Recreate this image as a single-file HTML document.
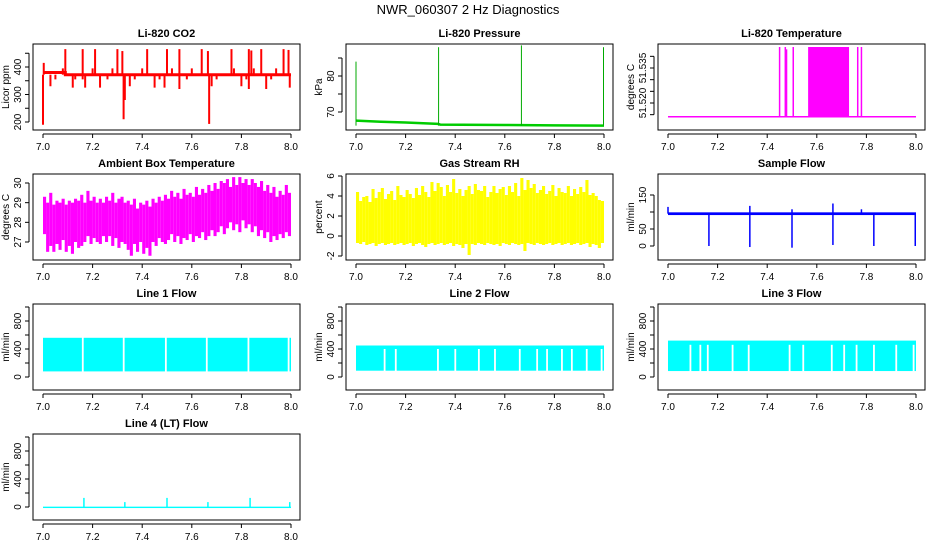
<!DOCTYPE html>
<html><head><meta charset="utf-8">
<style>
body{margin:0;background:#fff;}
svg text{font-family:"Liberation Sans",sans-serif;}
</style></head>
<body>
<svg id="c" width="936" height="540" xmlns="http://www.w3.org/2000/svg">
<text x="468" y="14" text-anchor="middle" font-size="13">NWR_060307  2 Hz Diagnostics</text>
</svg>
<script>
// ---- data ----
const xTicks = [7.0, 7.2, 7.4, 7.6, 7.8, 8.0];
const xStart = 7.0;
const xEnd = 8.0;
// CO2
const co2BaseX = [7.0, 7.09, 7.09, 8.0];
const co2BaseY = [380, 380, 372, 372];
const co2SpikeX = [7.0,7.003,7.09,7.16,7.21,7.30,7.32,7.325,7.33,7.42,7.50,7.55,7.64,7.665,7.67,7.76,7.83,7.84,7.88,7.97,7.99,7.03,7.05,7.08,7.12,7.13,7.16,7.17,7.20,7.23,7.26,7.28,7.35,7.37,7.40,7.45,7.47,7.49,7.52,7.55,7.58,7.60,7.68,7.70,7.77,7.80,7.82,7.83,7.85,7.90,7.92,7.94,7.995];
const co2SpikeY = [190,415,465,465,465,465,458,210,280,465,465,465,465,458,193,465,465,460,465,465,462,330,355,395,325,355,355,325,395,325,355,395,330,355,395,325,355,325,395,320,355,395,330,355,395,330,355,320,395,320,355,395,325];
// Pressure
const presBaseX = [7.0, 7.1, 7.2, 7.33, 7.34, 7.6, 7.8, 8.0];
const presBaseY = [67.6, 67.3, 67.1, 66.7, 66.5, 66.4, 66.3, 66.2];
const presSpikeX = [7.0, 7.333, 7.667, 7.998];
const presSpikeY = [84, 88, 88.5, 88];
// Li-820 temperature
const tempBase = 51.5141;
const tempSpikeX = [7.45, 7.473, 7.478, 7.505, 7.765, 7.78];
const tempSpikeY = [51.544, 51.544, 51.543, 51.544, 51.544, 51.544];
const tempBlock = [7.565, 7.73, 51.544];
// Ambient box temperature (80 bins, min / max)
const ambMin = [27.4,26.5,26.8,26.5,26.9,26.6,27.1,26.5,26.8,26.4,27.0,26.7,26.8,27.0,27.3,26.9,27.2,27.0,26.9,27.3,27.0,27.3,26.8,27.2,26.7,27.0,26.9,26.6,26.3,26.9,26.5,27.0,26.4,26.7,26.3,27.0,26.8,27.2,27.0,26.9,27.1,27.4,27.0,27.3,26.9,27.2,27.1,27.4,27.0,27.3,27.2,27.5,27.1,27.3,27.6,27.3,27.5,27.8,27.4,27.7,28.0,27.6,27.9,27.5,28.1,27.7,27.9,27.5,27.8,27.3,27.6,27.2,27.5,27.0,27.3,27.1,27.4,27.2,27.5,27.3];
const ambMax = [29.3,29.0,29.5,28.9,29.1,29.0,29.2,28.9,29.1,29.0,29.2,29.1,29.4,29.0,29.6,29.1,29.3,29.0,29.2,29.0,29.3,29.1,29.5,29.0,29.2,29.3,29.0,29.1,28.9,29.2,28.7,29.0,28.9,29.1,28.8,29.2,29.0,29.3,29.1,29.4,29.2,29.6,29.3,29.5,29.2,29.7,29.4,29.5,29.3,29.8,29.4,29.7,29.5,29.9,29.6,30.0,29.7,30.1,30.0,30.2,29.8,30.3,29.9,30.3,30.0,30.2,29.9,30.2,30.0,29.8,30.1,29.6,29.9,29.5,29.8,29.3,29.6,29.4,29.9,29.5];
// Gas stream RH (80 bins)
const rhMin = [-0.7,-0.8,-0.6,-0.9,-0.8,-0.7,-1.0,-0.8,-0.7,-0.9,-0.8,-0.7,-0.9,-0.8,-0.7,-0.9,-0.8,-0.7,-1.0,-0.8,-0.7,-0.9,-1.1,-0.8,-0.7,-0.9,-0.8,-0.7,-0.9,-0.8,-0.7,-1.0,-0.8,-0.9,-1.2,-0.8,-1.9,-0.8,-0.9,-0.7,-0.8,-0.9,-0.7,-0.8,-0.9,-0.8,-1.0,-0.7,-0.8,-0.9,-0.7,-0.8,-0.9,-0.8,-1.5,-0.7,-0.8,-0.9,-0.7,-0.8,-0.9,-0.8,-0.7,-0.9,-0.8,-0.7,-0.9,-0.8,-0.7,-0.9,-0.8,-0.7,-0.9,-0.8,-0.7,-1.1,-0.8,-0.9,-1.2,-0.7];
const rhMax = [4.4,3.5,3.9,4.0,3.4,4.7,3.8,4.4,4.8,3.7,4.2,4.5,3.6,5.0,4.1,3.9,4.6,4.2,3.8,4.8,4.1,5.0,4.4,3.9,5.4,4.5,5.3,4.9,4.0,5.1,4.4,5.7,4.3,4.7,4.0,4.6,5.0,4.2,5.2,4.6,4.5,5.0,3.9,4.4,5.0,4.3,4.7,4.9,4.1,5.0,4.4,5.3,4.0,5.8,4.6,5.6,4.8,5.2,4.3,4.6,5.0,4.2,4.5,5.1,4.0,4.8,4.4,4.3,5.0,4.0,4.7,4.2,4.9,4.4,5.6,4.1,4.3,4.0,3.6,3.5];
// Sample flow
const sfBand = [91, 99];
const sfDipX = [7.165, 7.33, 7.50, 7.665, 7.83, 7.997];
const sfDipY = [0, -3, -5, 3, 0, 0];
const sfUpX = [7.0, 7.33, 7.50, 7.665, 7.78];
const sfUpY = [115, 118, 108, 125, 108];
// Line flows
const l1Band = [80, 560];
const l1Gaps = [7.16, 7.325, 7.495, 7.66, 7.828, 7.99];
const l2Band = [90, 450];
const l2Gaps = [7.115, 7.16, 7.33, 7.40, 7.495, 7.56, 7.66, 7.73, 7.77, 7.83, 7.87, 7.93, 7.99];
const l3Band = [85, 520];
const l3Gaps = [7.09, 7.13, 7.16, 7.26, 7.325, 7.49, 7.545, 7.66, 7.71, 7.76, 7.83, 7.92, 7.99];
const l4Base = [-15, 5];
const l4SpikeX = [7.165, 7.33, 7.50, 7.665, 7.835, 7.995];
const l4SpikeY = [130, 70, 130, 70, 130, 70];

// ---- helpers ----
const svg = document.getElementById('c');
const NS = 'http://www.w3.org/2000/svg';
function mk(tag, attrs, parent){const e=document.createElementNS(NS,tag);for(const k in attrs)e.setAttribute(k,attrs[k]);(parent||svg).appendChild(e);return e;}
const colX=[33,346,658], rowY=[44,174,304,434], BW=267, BH=86;

function panel(col,row,title,ylab,v1,o1,v2,o2,yticks,ylabels,name){
  const L=colX[col], T=rowY[row];
  const g=mk('g',{});
  
  
  const sx=v=>L+10+(v-7)*248;
  const sy=v=>T+o1+(v-v1)*(o2-o1)/(v2-v1);
  const t=mk('text',{x:L+BW/2,y:T-7,'text-anchor':'middle','font-size':11,'font-weight':'bold'},g);t.textContent=title;
  
  
  const box=mk('rect',{x:L,y:T,width:BW,height:BH,fill:'none',stroke:'#000'},g);
  
  
  const xa=mk('g',{},g);
  
  
  mk('line',{x1:sx(xTicks[0]),x2:sx(xTicks[xTicks.length-1]),y1:T+BH+4,y2:T+BH+4,stroke:'#000'},xa);
  xTicks.forEach(v=>{mk('line',{x1:sx(v),x2:sx(v),y1:T+BH+4,y2:T+BH+8,stroke:'#000'},xa);
    const tx=mk('text',{x:sx(v),y:T+BH+20,'text-anchor':'middle','font-size':10},xa);tx.textContent=v.toFixed(1);});
  const ya=mk('g',{},g);
  
  
  mk('line',{x1:L-4,x2:L-4,y1:sy(yticks[0]),y2:sy(yticks[yticks.length-1]),stroke:'#000'},ya);
  yticks.forEach(v=>{mk('line',{x1:L-8,x2:L-4,y1:sy(v),y2:sy(v),stroke:'#000'},ya);});
  ylabels.forEach(v=>{const tx=mk('text',{x:L-12,y:sy(v),'text-anchor':'middle','font-size':10,transform:`rotate(-90 ${L-12} ${sy(v)})`},ya);tx.textContent=String(v);});
  const yt=mk('text',{x:L-24,y:T+BH/2,'text-anchor':'middle','font-size':10,transform:`rotate(-90 ${L-24} ${T+BH/2})`},g);yt.textContent=ylab;
  
  
  const d=mk('g',{},g);
  
  
  return {sx,sy,d};
}
function vline(p,x,y0,y1,col,w){const l=mk('line',{x1:p.sx(x),x2:p.sx(x),y1:p.sy(y0),y2:p.sy(y1),stroke:col,'stroke-width':w||1.5},p.d);
  
  }
function band(p,x0,x1,y0,y1,col){const y=Math.min(p.sy(y0),p.sy(y1));const r=mk('rect',{x:p.sx(x0),y:y,width:Math.max(0.5,p.sx(x1)-p.sx(x0)),height:Math.abs(p.sy(y1)-p.sy(y0)),fill:col},p.d);
  
  }
function poly(p,xs,ys,col,w){const pts=xs.map((x,i)=>p.sx(x)+','+p.sy(ys[i])).join(' ');const l=mk('polyline',{points:pts,fill:'none',stroke:col,'stroke-width':w},p.d);
  
  }
function bins(p,mins,maxs,col){const n=mins.length,w=(xEnd-xStart)/n;
  mins.forEach((m,i)=>band(p,xStart+i*w,xStart+(i+1)*w,m,maxs[i],col));}

// CO2
let p=panel(0,0,'Li-820 CO2','Licor ppm',400,23,200,78,[200,250,300,350,400,450],[200,300,400],'co2');
poly(p,co2BaseX,co2BaseY,'#f00',3);
co2SpikeX.forEach((x,i)=>vline(p,x,372,co2SpikeY[i],'#f00',2));
// Pressure
p=panel(1,0,'Li-820 Pressure','kPa',80,32,70,68,[70,75,80,85],[70,80],'pressure');
poly(p,presBaseX,presBaseY,'#00cc00',2.5);
presSpikeX.forEach((x,i)=>vline(p,x,66.2,presSpikeY[i],'#00aa00',1));
// Li-820 temperature
p=panel(2,0,'Li-820 Temperature','degrees C',51.535,24,51.520,59,[51.515,51.520,51.525,51.530,51.535,51.540],['51.520','51.535'],'li820-temp');
poly(p,[7.0,8.0],[tempBase,tempBase],'#f0f',1.5);
tempSpikeX.forEach((x,i)=>vline(p,x,tempBase,tempSpikeY[i],'#f0f',1.5));
band(p,tempBlock[0],tempBlock[1],tempBase,tempBlock[2],'#f0f');
// Ambient
p=panel(0,1,'Ambient Box Temperature','degrees C',30,9,27,68,[27,28,29,30],[27,28,29,30],'ambient-temp');
bins(p,ambMin,ambMax,'#f0f');
// RH
p=panel(1,1,'Gas Stream RH','percent',6,2,-2,82,[-2,0,2,4,6],[-2,0,2,4,6],'rh');
bins(p,rhMin,rhMax,'#ff0');
// Sample flow
p=panel(2,1,'Sample Flow','ml/min',150,21,0,72,[0,50,100,150],[0,50,150],'sample-flow');
band(p,7.0,8.0,sfBand[0],sfBand[1],'#00f');
sfDipX.forEach((x,i)=>vline(p,x,95,sfDipY[i],'#00f',1.5));
sfUpX.forEach((x,i)=>vline(p,x,95,sfUpY[i],'#00f',1.5));
// Line flows
function flow(col,row,title,bnd,gaps,gapTop,name){
  const q=panel(col,row,title,'ml/min',0,73,800,17,[0,200,400,600,800,1000],[0,400,800],name);
  band(q,7.0,8.0,bnd[0],bnd[1],'#0ff');
  gaps.forEach(x=>{const r=mk('rect',{x:q.sx(x)-0.8,y:q.sy(gapTop),width:1.8,height:q.sy(bnd[0]-5)-q.sy(gapTop),fill:'#fff'},q.d);
    
    });
  return q;
}
flow(0,2,'Line 1 Flow',l1Band,l1Gaps,l1Band[1]+5,'line1-flow');
flow(1,2,'Line 2 Flow',l2Band,l2Gaps,400,'line2-flow');
flow(2,2,'Line 3 Flow',l3Band,l3Gaps,460,'line3-flow');
p=panel(0,3,'Line 4 (LT) Flow','ml/min',0,73,800,17,[0,200,400,600,800,1000],[0,400,800],'line4-flow');
band(p,7.0,8.0,l4Base[0],l4Base[1],'#0ff');
l4SpikeX.forEach((x,i)=>vline(p,x,0,l4SpikeY[i],'#0ff',1.5));
</script>
</body></html>
